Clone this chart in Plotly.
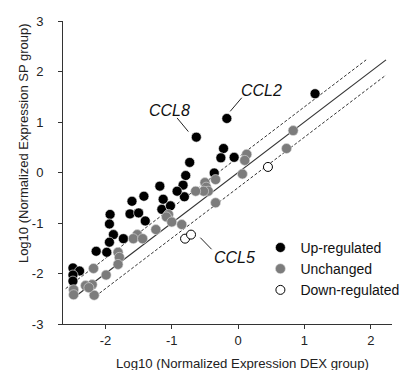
import plotly.graph_objects as go

# Up-regulated (x = DEX, y = SP)
up_x = [-0.63, -0.17, 1.16, -0.22, -0.26, -0.06, -0.73, -0.79, -0.36, -0.83, -0.81,
        -1.18, -1.42, -1.60, -0.92, -1.13, -1.15, -1.02, -1.63, -1.50, -1.40, -1.73,
        -1.93, -1.94, -1.88, -1.94, -2.14, -1.98, -2.49, -2.39, -2.49, -2.49]
up_y = [0.70, 1.07, 1.56, 0.475, 0.29, 0.30, 0.20, -0.06, -0.01, -0.25, -0.48,
        -0.27, -0.47, -0.57, -0.37, -0.53, -0.73, -0.66, -0.82, -0.80, -0.96, -1.31,
        -0.83, -1.02, -1.23, -1.38, -1.56, -1.58, -1.89, -1.95, -2.03, -2.15]

# Unchanged
un_x = [0.83, 0.73, 0.13, 0.10, 0.065, -0.34, -0.34, -0.50, -0.48, -0.45, -0.52, -0.64,
        -1.05, -1.08, -1.00, -0.85, -1.24, -1.52, -1.58, -1.44, -1.81, -1.79, -1.81,
        -1.99, -2.18, -2.20, -2.30, -2.48, -2.48, -2.17, -2.25]
un_y = [0.83, 0.475, 0.36, 0.24, -0.03, -0.60, -0.14, -0.20, -0.29, -0.37, -0.37, -0.37,
        -0.83, -0.88, -0.98, -1.03, -1.13, -1.23, -1.31, -1.31, -1.58, -1.68, -1.82,
        -2.03, -1.90, -2.22, -2.24, -2.32, -2.42, -2.43, -2.28]

# Down-regulated
down_x = [-0.80, -0.71, 0.45]
down_y = [-1.31, -1.23, 0.11]

# Reference lines: y = x + offset
line_offsets = [0.0, 0.3, -0.3]
line_x_start = [-2.45, -2.6, -2.15]
line_x_end = [2.23, 1.93, 2.23]

# Gene labels
label_text = ["CCL8", "CCL2", "CCL5"]
label_x = [-1.04, 0.35, -0.05]
label_y = [1.23, 1.62, -1.68]
leader_x0 = [-0.92, 0.055, -0.57]
leader_y0 = [1.08, 1.48, -1.29]
leader_x1 = [-0.75, -0.12, -0.40]
leader_y1 = [0.81, 1.21, -1.52]

tick_vals_x = [-2, -1, 0, 1, 2]
tick_text_x = ["-2", "-1", "0", "1", "2"]
tick_vals_y = [-3, -2, -1, 0, 1, 2, 3]
tick_text_y = ["-3", "-2", "-1", "0", "1", "2", "3"]
x_title = "Log10 (Normalized Expression DEX group)"
y_title = "Log10 (Normalized Expression SP group)"

FONT = "Liberation Sans, Arial, Helvetica, sans-serif"
fig = go.Figure()

for off, x0, x1 in zip(line_offsets, line_x_start, line_x_end):
    fig.add_trace(go.Scatter(
        x=[x0, x1], y=[x0 + off, x1 + off], mode="lines",
        line=dict(color="#333333", width=1.2 if off == 0 else 1,
                  dash="solid" if off == 0 else "3px,2px"),
        showlegend=False, hoverinfo="skip"))

fig.add_trace(go.Scatter(x=up_x, y=up_y, mode="markers", name="Up-regulated",
                         marker=dict(size=10, color="black", line=dict(color="white", width=0.6))))
fig.add_trace(go.Scatter(x=un_x, y=un_y, mode="markers", name="Unchanged",
                         marker=dict(size=10, color="#7c7c7c", line=dict(color="#dddddd", width=0.6))))
fig.add_trace(go.Scatter(x=down_x, y=down_y, mode="markers", name="Down-regulated",
                         marker=dict(size=9, color="white", line=dict(color="black", width=1))))

for t, x, y in zip(label_text, label_x, label_y):
    fig.add_annotation(x=x, y=y, text="<i>%s</i>" % t, showarrow=False,
                       font=dict(family=FONT, size=16, color="#111111"))
for x0, y0, x1, y1 in zip(leader_x0, leader_y0, leader_x1, leader_y1):
    fig.add_shape(type="line", x0=x0, y0=y0, x1=x1, y1=y1, xref="x", yref="y",
                  line=dict(color="#222222", width=1))

# Axis titles
fig.add_annotation(xref="paper", yref="paper", x=0.547, y=-0.131, text=x_title,
                   showarrow=False, xanchor="center", yanchor="middle",
                   font=dict(family=FONT, size=13.2, color="#222222"))
fig.add_annotation(xref="paper", yref="paper", x=-0.1216, y=0.597, text=y_title,
                   showarrow=False, xanchor="center", yanchor="middle", textangle=-90,
                   font=dict(family=FONT, size=13, color="#222222"))

fig.update_layout(
    width=402, height=362,
    margin=dict(l=55, r=18, t=13, b=46, autoexpand=False),
    plot_bgcolor="white", paper_bgcolor="white",
    font=dict(family=FONT, size=13, color="#222222"),
    legend=dict(x=0.6, y=0.304, xanchor="left", yanchor="top",
                font=dict(size=14, family=FONT, color="#111111"),
                bgcolor="rgba(0,0,0,0)", tracegroupgap=0, itemwidth=30),
    showlegend=True,
)
fig.update_xaxes(range=[-2.64, 2.32], tickvals=tick_vals_x, ticktext=tick_text_x,
                 ticks="outside", ticklen=4,
                 tickcolor="#333333", showline=True, linecolor="#333333", linewidth=1,
                 showgrid=False, zeroline=False, automargin=False)
fig.update_yaxes(range=[-3, 3], tickvals=tick_vals_y, ticktext=tick_text_y,
                 ticks="outside", ticklen=4,
                 tickcolor="#333333", showline=True, linecolor="#333333", linewidth=1,
                 showgrid=False, zeroline=False, automargin=False, ticklabelstandoff=12)

fig.write_html("out.html")
